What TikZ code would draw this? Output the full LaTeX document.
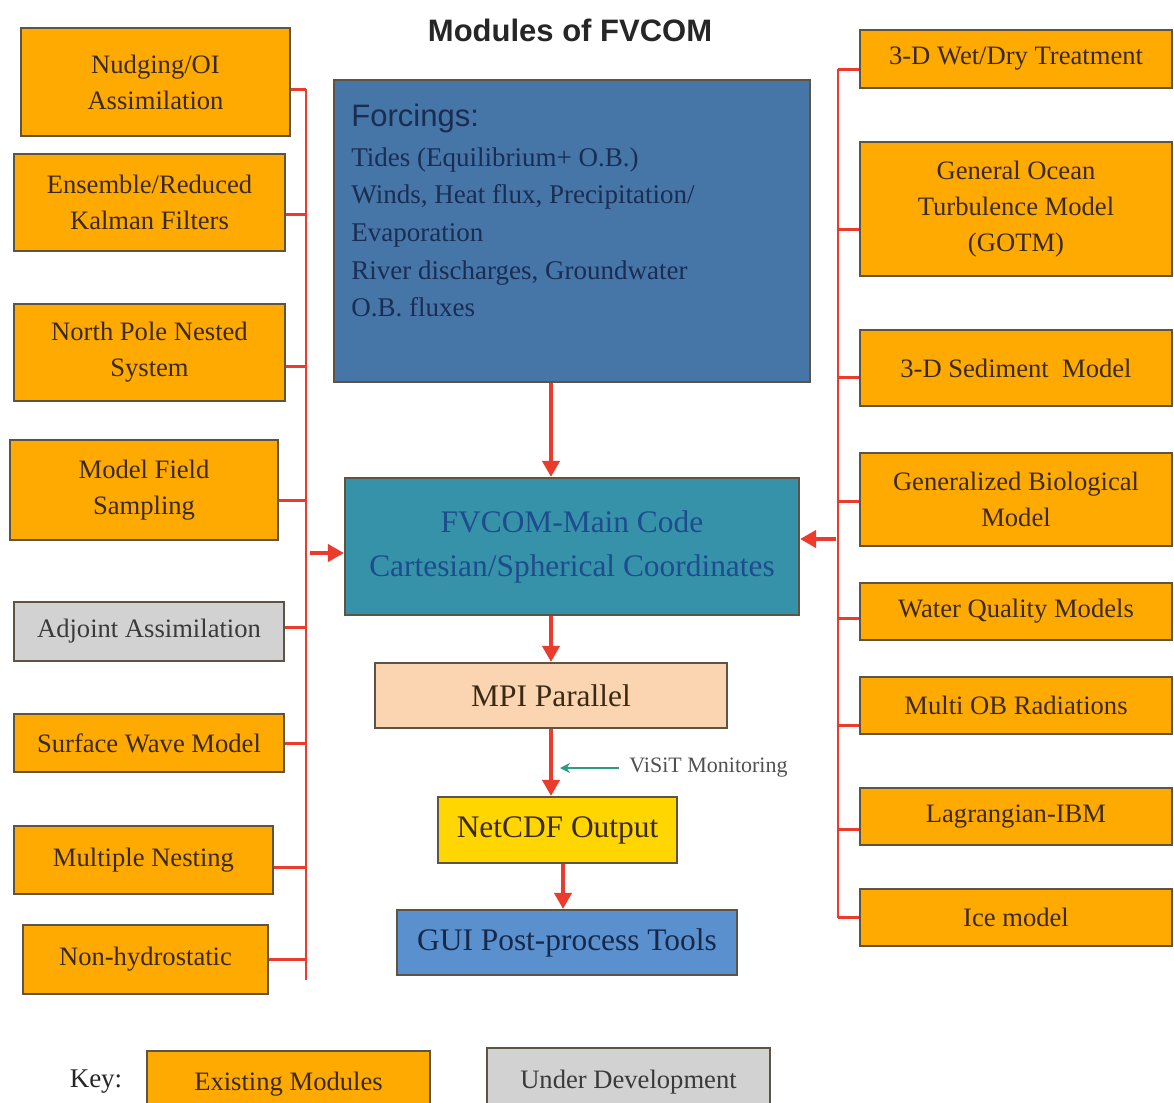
\documentclass[tikz,border=0pt]{standalone}
\usepackage{fontspec}
\setmainfont{Liberation Serif}
\setsansfont{Liberation Sans}
\usetikzlibrary{arrows.meta}
\definecolor{orangefill}{HTML}{FFAA00}
\definecolor{boxborder}{HTML}{5E5444}
\definecolor{modtext}{HTML}{3B2A12}
\definecolor{grayfill}{HTML}{D2D2D2}
\definecolor{graytext}{HTML}{3A3A3A}
\definecolor{forcfill}{HTML}{4675A8}
\definecolor{forctext}{HTML}{1A2D52}
\definecolor{mainfill}{HTML}{3692A8}
\definecolor{maintext}{HTML}{1F4C8E}
\definecolor{mpifill}{HTML}{FBD4B2}
\definecolor{netfill}{HTML}{FFD600}
\definecolor{guifill}{HTML}{5B90CE}
\definecolor{guitext}{HTML}{15294A}
\definecolor{redline}{HTML}{EA3B2C}
\definecolor{visitgreen}{HTML}{2E9C80}
\definecolor{visittext}{HTML}{505050}
\newcommand\mybox[7]{%
  \pgfmathsetmacro\bxc{(#3+#5)/2}\pgfmathsetmacro\byc{(#4+#6)/2}%
  \pgfmathsetmacro\bw{(#5-#3)*0.5}\pgfmathsetmacro\bh{(#6-#4)*0.5}%
  \node[#1, minimum width=\bw pt, minimum height=\bh pt] (#2) at (\bxc,\byc) {#7};}
\newcommand\lstub[2]{\coordinate (#1c) at ([yshift=#2]#1.east); \draw[stub] (#1c) -- (#1c -| lbus);}
\newcommand\rstub[2]{\coordinate (#1c) at ([yshift=#2]#1.west); \draw[stub] (#1c) -- (#1c -| rbus);}
\tikzset{
  mod/.style={draw=boxborder, line width=1.1pt, fill=orangefill, inner sep=0pt, align=center,
    text=modtext, font=\fontsize{13.3}{18}\selectfont},
  devmod/.style={mod, fill=grayfill, text=graytext},
  centerbox/.style={draw=boxborder, line width=1.1pt, inner sep=0pt, align=center,
    font=\fontsize{15.7}{22}\selectfont},
  stub/.style={draw=redline, line width=1.5pt},
  bus/.style={draw=redline, line width=1.3pt},
  flow/.style={draw=redline, line width=2.4pt, -{Triangle[length=8pt,width=8.5pt]}},
  forcline/.style={anchor=base west, inner sep=0pt, text=forctext, font=\fontsize{13.5}{18}\selectfont},
}
\begin{document}
\begin{tikzpicture}[x=0.5pt, y=-0.5pt]
\useasboundingbox (0,0) rectangle (1174,1103);
\clip (0,0) rectangle (1174,1103);
\fill[white] (0,0) rectangle (1174,1103);

% title
\node[font=\sffamily\bfseries\fontsize{15.5}{18}\selectfont, text=black!85] (title) at (570,30) {Modules of FVCOM};

% bus coordinates
\coordinate (lbus) at (306,0);
\coordinate (rbus) at (838,0);
\coordinate (lbend) at (306,980);
\coordinate (ax) at (563,0);

% left column
\mybox{mod}{nudge}{21}{28}{290}{136}{Nudging/OI\\Assimilation}
\mybox{mod}{ens}{14}{154}{285}{251}{Ensemble/Reduced\\Kalman Filters}
\mybox{mod}{np}{14}{304}{285}{401}{North Pole Nested\\System}
\mybox{mod}{mfs}{10}{440}{278}{540}{Model Field\\Sampling}
\mybox{devmod}{adj}{14}{602}{284}{661}{Adjoint Assimilation}
\mybox{mod}{swm}{14}{714}{284}{772}{Surface Wave Model}
\mybox{mod}{mn}{14}{826}{273}{894}{Multiple Nesting}
\mybox{mod}{nh}{23}{925}{268}{994}{Non-hydrostatic}

% right column
\mybox{mod}{wd}{860}{30}{1172}{88}{3-D Wet/Dry Treatment}
\mybox{mod}{gotm}{860}{142}{1172}{276}{General Ocean\\Turbulence Model\\(GOTM)}
\mybox{mod}{sed}{860}{330}{1172}{406}{3-D Sediment\ \ Model}
\mybox{mod}{bio}{860}{453}{1172}{546}{Generalized Biological\\Model}
\mybox{mod}{wq}{860}{583}{1172}{640}{Water Quality Models}
\mybox{mod}{mob}{860}{677}{1172}{734}{Multi OB Radiations}
\mybox{mod}{lag}{860}{788}{1172}{845}{Lagrangian-IBM}
\mybox{mod}{ice}{860}{889}{1172}{946}{Ice model}

% centre column
\mybox{centerbox, fill=forcfill}{forc}{334}{80}{810}{382}{}
\node[forcline, font=\sffamily\fontsize{15.5}{18}\selectfont] (f0) at (351,126) {Forcings:};
\node[forcline] (f1) at (351,166) {Tides (Equilibrium+ O.B.)};
\node[forcline] (f2) at (351,203) {Winds, Heat flux, Precipitation/};
\node[forcline] (f3) at (351,241) {Evaporation};
\node[forcline] (f4) at (351,279) {River discharges, Groundwater};
\node[forcline] (f5) at (351,316) {O.B. fluxes};

\mybox{centerbox, fill=mainfill, text=maintext}{fv}{345}{478}{799}{615}{FVCOM-Main Code\\Cartesian/Spherical Coordinates}
\mybox{centerbox, fill=mpifill, text=modtext}{mpi}{375}{663}{727}{728}{MPI Parallel}
\mybox{centerbox, fill=netfill, text=modtext}{net}{438}{797}{677}{863}{NetCDF Output}
\mybox{centerbox, fill=guifill, text=guitext}{gui}{397}{910}{737}{975}{GUI Post-process Tools}

% stubs left
\lstub{nudge}{-3.5pt}
\lstub{ens}{-6pt}
\lstub{np}{-7pt}
\lstub{mfs}{-5pt}
\lstub{adj}{2pt}
\lstub{swm}{0pt}
\lstub{mn}{-3.5pt}
\lstub{nh}{0pt}
\draw[bus] (nudgec -| lbus) -- (lbend);

% stubs right
\rstub{wd}{-5pt}
\rstub{gotm}{-10pt}
\rstub{sed}{-4.5pt}
\rstub{bio}{-1pt}
\rstub{wq}{-3.5pt}
\rstub{mob}{-10pt}
\rstub{lag}{-6.5pt}
\rstub{ice}{0pt}
\draw[bus] (wdc -| rbus) -- (icec -| rbus);

% flow arrows
\coordinate (fvl) at ([yshift=-3.25pt]fv.west);
\coordinate (fvr) at ([yshift=3.75pt]fv.east);
\draw[flow] ([xshift=2pt]fvl -| lbus) -- (fvl);
\draw[flow] ([xshift=-1pt]fvr -| rbus) -- (fvr);
\draw[flow] (forc.south -| mpi.north) -- (fv.north -| mpi.north);
\draw[flow] (fv.south -| mpi.north) -- (mpi.north);
\draw[flow] (mpi.south) -- (net.north -| mpi.south);
\draw[flow] (net.south -| ax) -- (gui.north -| ax);

% ViSiT
\node[anchor=west, inner sep=0pt, text=visittext, font=\fontsize{11}{13}\selectfont] (vis) at (629,768) {ViSiT Monitoring};
\coordinate (vt) at (560,768);
\draw[visitgreen, line width=0.9pt, shorten <=5pt, -{Stealth[length=5pt,width=5pt]}] (vis.west) -- (vis.west -| vt);

% key
\node[font=\fontsize{13.5}{16}\selectfont, text=black!85] (key) at (96,1082) {Key:};
\mybox{mod}{kexist}{147}{1051}{430}{1117}{Existing Modules}
\mybox{devmod}{kdev}{487}{1048}{770}{1117}{Under Development}
\end{tikzpicture}
\end{document}
